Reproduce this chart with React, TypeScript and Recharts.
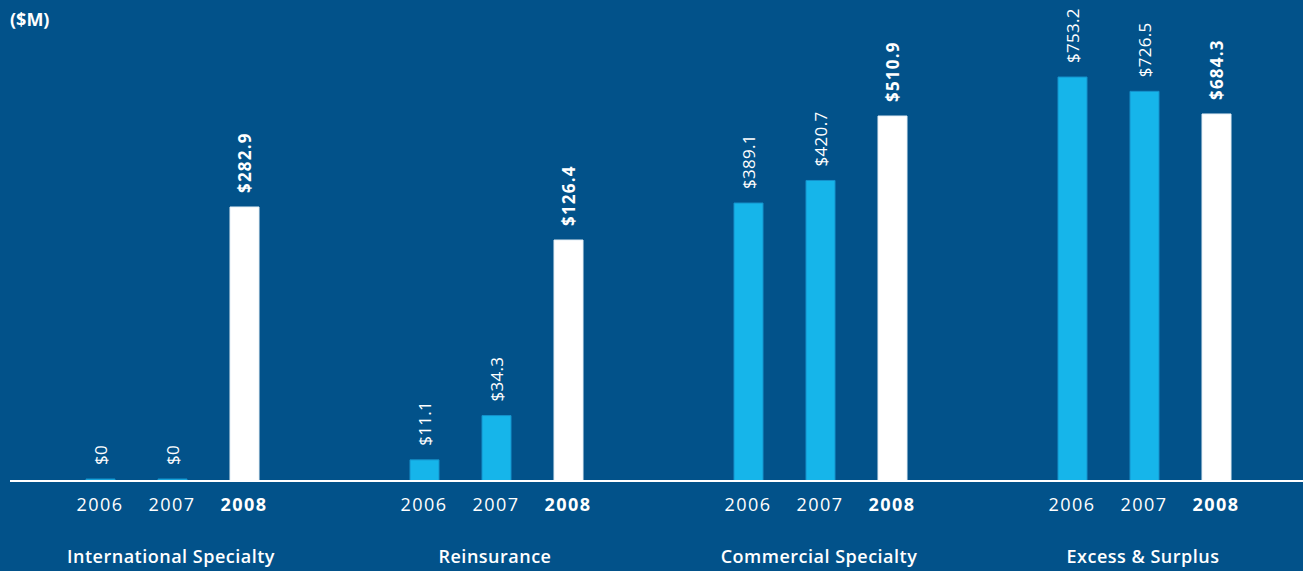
import { BarChart, Bar, XAxis, YAxis, Cell, LabelList } from "recharts";

const years = ["2006", "2007", "2008"];
const segments = [
  "International Specialty",
  "Reinsurance",
  "Commercial Specialty",
  "Excess & Surplus",
];
const values2006 = [0, 11.1, 389.1, 753.2];
const values2007 = [0, 34.3, 420.7, 726.5];
const values2008 = [282.9, 126.4, 510.9, 684.3];
// each panel in the original is drawn to its own scale
const axisMax = [496.6, 252.3, 673.3, 896.8];

const BG = "#02528a";
const CYAN = "#16b5ea";
const FONT = "'Open Sans', sans-serif";

function YearTick(props: any) {
  const { x, payload } = props;
  const bold = payload.value === "2008";
  return (
    <text
      x={x}
      y={511}
      textAnchor="middle"
      fill="#fff"
      fontSize={18}
      fontWeight={bold ? 700 : 400}
      fontFamily={FONT}
      letterSpacing={1.5}
    >
      {payload.value}
    </text>
  );
}

function ValueLabel(props: any) {
  const { x, y, width, value, index } = props;
  const cx = x + width / 2;
  const cy = y - 14;
  const bold = index === 2;
  return (
    <text
      x={cx}
      y={cy}
      transform={`rotate(-90, ${cx}, ${cy})`}
      textAnchor="start"
      dominantBaseline="central"
      fill="#fff"
      fontSize={17}
      fontWeight={bold ? 700 : 400}
      fontFamily={FONT}
      letterSpacing={bold ? 1.2 : 0.3}
    >
      {`$${value}`}
    </text>
  );
}

function Panel({ i }: { i: number }) {
  const data = years.map((year, j) => ({
    year,
    value: [values2006, values2007, values2008][j][i],
  }));
  return (
    <BarChart
      width={324}
      height={571}
      data={data}
      margin={{ top: 0, right: 0, bottom: 0, left: 0 }}
    >
      <XAxis
        dataKey="year"
        height={90}
        padding={{ left: 54, right: 54 }}
        axisLine={{ stroke: "#fff", strokeWidth: 2 }}
        tickLine={false}
        tick={<YearTick />}
        interval={0}
        label={{
          content: (p: any) => {
            const vb = p.viewBox;
            return (
              <text
                x={vb.x + vb.width / 2 - 1}
                y={563}
                textAnchor="middle"
                fill="#fff"
                fontSize={18}
                fontWeight={600}
                fontFamily={FONT}
                letterSpacing={0.5}
              >
                {segments[i]}
              </text>
            );
          },
        }}
      />
      <YAxis hide domain={[0, axisMax[i]]} />
      <Bar
        dataKey="value"
        barSize={29}
        minPointSize={2}
        isAnimationActive={false}
      >
        {data.map((d, j) => (
          <Cell
            key={d.year}
            fill={j === 2 ? "#ffffff" : CYAN}
            stroke={j === 2 ? "#e4eef5" : "#1592cc"}
            strokeWidth={1}
          />
        ))}
        <LabelList dataKey="value" content={<ValueLabel />} />
      </Bar>
    </BarChart>
  );
}

export default function App() {
  return (
    <div
      style={{
        position: "absolute",
        left: 0,
        top: 0,
        width: 1303,
        height: 571,
        background: BG,
        overflow: "hidden",
      }}
    >
      <div
        style={{
          position: "absolute",
          left: 10,
          top: 7,
          color: "#fff",
          fontFamily: FONT,
          fontWeight: 700,
          fontSize: 18,
        }}
      >
        ($M)
      </div>
      <div style={{ display: "flex", marginLeft: 10, width: 1296 }}>
        {segments.map((s, i) => (
          <Panel key={s} i={i} />
        ))}
      </div>
    </div>
  );
}
